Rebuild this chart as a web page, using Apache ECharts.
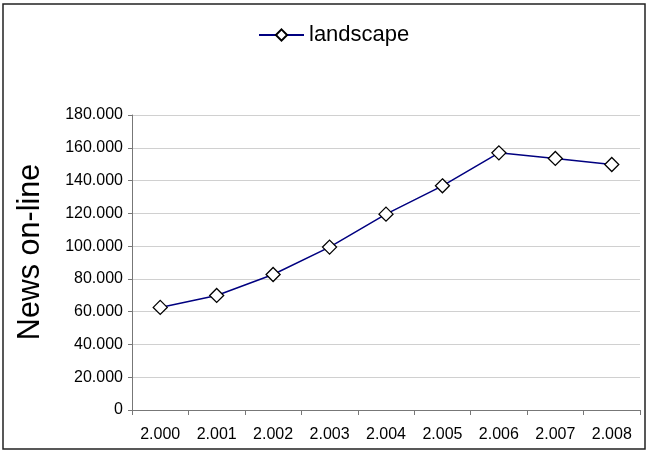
<!DOCTYPE html>
<html>
<head>
<meta charset="utf-8">
<script src="https://cdn.jsdelivr.net/npm/echarts@6/dist/echarts.min.js"></script>
<style>html,body{margin:0;padding:0;background:#fff}#c{width:647px;height:451px}</style>
</head>
<body>
<div id="c"></div>
<script>
var categories = ["2.000","2.001","2.002","2.003","2.004","2.005","2.006","2.007","2.008"];
var landscape = [62600, 69900, 82700, 99400, 119500, 136800, 156900, 153500, 149800];
var seriesName = "landscape";
var yTitle = "News on-line";

function fmt(v){ return String(v).replace(/\B(?=(\d{3})+(?!\d))/g, "."); }

var chart = echarts.init(document.getElementById('c'), null, {renderer:'canvas'});
var F = 'Liberation Sans, Arial, sans-serif';
chart.setOption({
  animation:false,
  backgroundColor:'#fff',
  graphic:[
    {type:'rect', shape:{x:3,y:4,width:642,height:445}, style:{fill:'none', stroke:'#222', lineWidth:1.5}, silent:true},
    {type:'text', x:31, y:252, rotation:Math.PI/2, silent:true,
      style:{text:yTitle, fontFamily:F, fontSize:30.5, fill:'#000', align:'center', verticalAlign:'middle'}}
  ],
  legend:{left:253, top:19, itemWidth:45, itemHeight:14, itemGap:10,
    textStyle:{fontFamily:F, fontSize:22, color:'#000'}, data:[seriesName]},
  grid:{left:132, right:7, top:115, bottom:41},
  xAxis:{type:'category', data:categories, boundaryGap:true,
    axisLine:{lineStyle:{color:'#777', width:1}},
    axisTick:{show:true, length:5, lineStyle:{color:'#777'}, alignWithLabel:false},
    axisLabel:{fontFamily:F, fontSize:16, color:'#000', margin:17}},
  yAxis:{type:'value', min:0, max:180000, interval:20000,
    axisLine:{show:true, lineStyle:{color:'#777'}},
    axisTick:{show:true, length:4, lineStyle:{color:'#777'}},
    splitLine:{lineStyle:{color:'#d0d0d0'}},
    axisLabel:{fontFamily:F, fontSize:16, color:'#000', margin:9, formatter:fmt}},
  series:[{name:seriesName, type:'line', data:landscape,
    symbol:'diamond', symbolSize:14,
    lineStyle:{color:'#000080', width:1.5},
    itemStyle:{color:'#fff', borderColor:'#000', borderWidth:1.3}}]
});
</script>
</body>
</html>
